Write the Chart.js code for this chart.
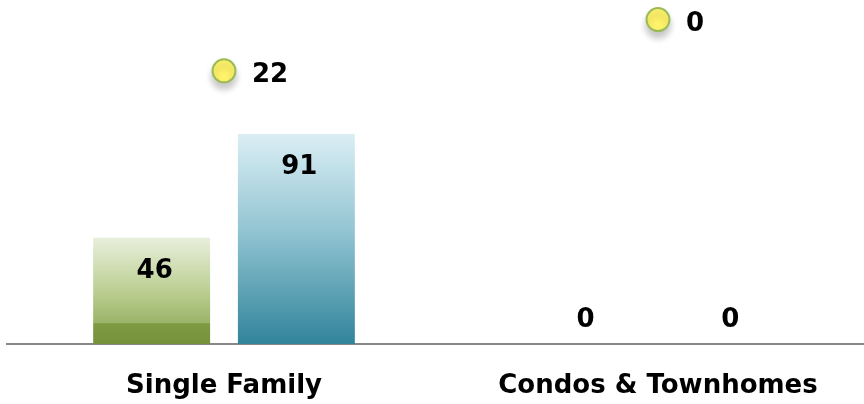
<!DOCTYPE html>
<html>
<head>
<meta charset="utf-8">
<script src="https://cdn.jsdelivr.net/npm/chart.js@4"></script>
<style>
html,body{margin:0;padding:0;background:#fff;overflow:hidden;width:864px;height:404px;}
#wrap{position:absolute;left:0;top:0;width:876px;height:404px;}
</style>
</head>
<body>
<div id="wrap"><canvas id="c" width="876" height="404"></canvas></div>
<script>
const categories = ['Single Family', 'Condos & Townhomes'];
const seriesA = [46, 0];
const seriesB = [91, 0];
const pointValues = [22, 0];

const FONT = '"DejaVu Sans", Verdana, sans-serif';

function vGrad(ctx, top, bottom, stops) {
  const g = ctx.createLinearGradient(0, top, 0, bottom);
  stops.forEach(s => g.addColorStop(s[0], s[1]));
  return g;
}

const labelPlugin = {
  id: 'labels',
  beforeDatasetDraw(chart, args) {
    if (args.index === 2) {
      const ctx = chart.ctx;
      ctx.save();
      ctx.shadowColor = 'rgba(0,0,0,0.22)';
      ctx.shadowBlur = 7;
      ctx.shadowOffsetY = 6;
    }
  },
  afterDatasetDraw(chart, args) {
    if (args.index === 2) chart.ctx.restore();
  },
  afterDatasetsDraw(chart) {
    const ctx = chart.ctx;
    ctx.save();
    ctx.font = 'bold 26px ' + FONT;
    ctx.fillStyle = '#000';
    ctx.textBaseline = 'alphabetic';
    [0, 1].forEach(di => {
      const meta = chart.getDatasetMeta(di);
      const data = chart.data.datasets[di].data;
      meta.data.forEach((bar, i) => {
        const v = data[i];
        ctx.textAlign = 'center';
        const y = v > 0 ? bar.y + 40 : bar.base - 17;
        ctx.fillText(String(v), bar.x + (v > 9 ? 3 : 0), y);
      });
    });
    const pm = chart.getDatasetMeta(2);
    pm.data.forEach((pt, i) => {
      ctx.textAlign = 'left';
      ctx.fillText(String(pointValues[i]), pt.x + 28, pt.y + 11);
    });
    ctx.restore();
  }
};

const ctx = document.getElementById('c').getContext('2d');
new Chart(ctx, {
  type: 'bar',
  data: {
    labels: categories,
    datasets: [
      {
        label: 'A',
        data: seriesA,
        backgroundColor: (c) => {
          if (!c.chart.chartArea) return '#9bbb59';
          const y = c.chart.scales.y;
          return vGrad(c.chart.ctx, y.getPixelForValue(46), y.getPixelForValue(0),
            [[0, '#e8efdc'], [0.5, '#bccf92'], [0.8, '#9ab469'], [0.81, '#7e9a43'], [1, '#76923b']]);
        },
        borderWidth: 0,
        categoryPercentage: 0.667,
        barPercentage: 0.808,
        yAxisID: 'y',
        order: 2
      },
      {
        label: 'B',
        data: seriesB,
        backgroundColor: (c) => {
          if (!c.chart.chartArea) return '#4bacc6';
          const y = c.chart.scales.y;
          return vGrad(c.chart.ctx, y.getPixelForValue(91), y.getPixelForValue(0),
            [[0, '#dbeef4'], [0.45, '#94c6d3'], [1, '#31849b']]);
        },
        borderWidth: 0,
        categoryPercentage: 0.667,
        barPercentage: 0.808,
        yAxisID: 'y',
        order: 2
      },
      {
        type: 'line',
        label: 'P',
        data: pointValues,
        yAxisID: 'y2',
        showLine: false,
        pointRadius: 11.5,
        pointBackgroundColor: '#fff36a',
        pointBorderColor: '#9bbb59',
        pointBorderWidth: 2,
        clip: false,
        order: 1
      }
    ]
  },
  options: {
    responsive: false,
    animation: false,
    events: [],
    layout: { autoPadding: false, padding: { left: 7, right: 1, top: 0, bottom: 0 } },
    plugins: { legend: { display: false }, tooltip: { enabled: false } },
    scales: {
      x: {
        offset: true,
        grid: { display: false, drawTicks: false },
        border: { display: true, color: '#888888', width: 2 },
        ticks: {
          color: '#000',
          font: { family: FONT, size: 26, weight: 'bold' },
          padding: 27,
          maxRotation: 0,
          autoSkip: false
        },
        afterFit(s) { s.height = 60; }
      },
      y: {
        display: false,
        min: 0,
        max: 149
      },
      y2: {
        display: false,
        reverse: true,
        min: -8.4,
        max: 139.2
      }
    }
  },
  plugins: [labelPlugin]
});
</script>
</body>
</html>
